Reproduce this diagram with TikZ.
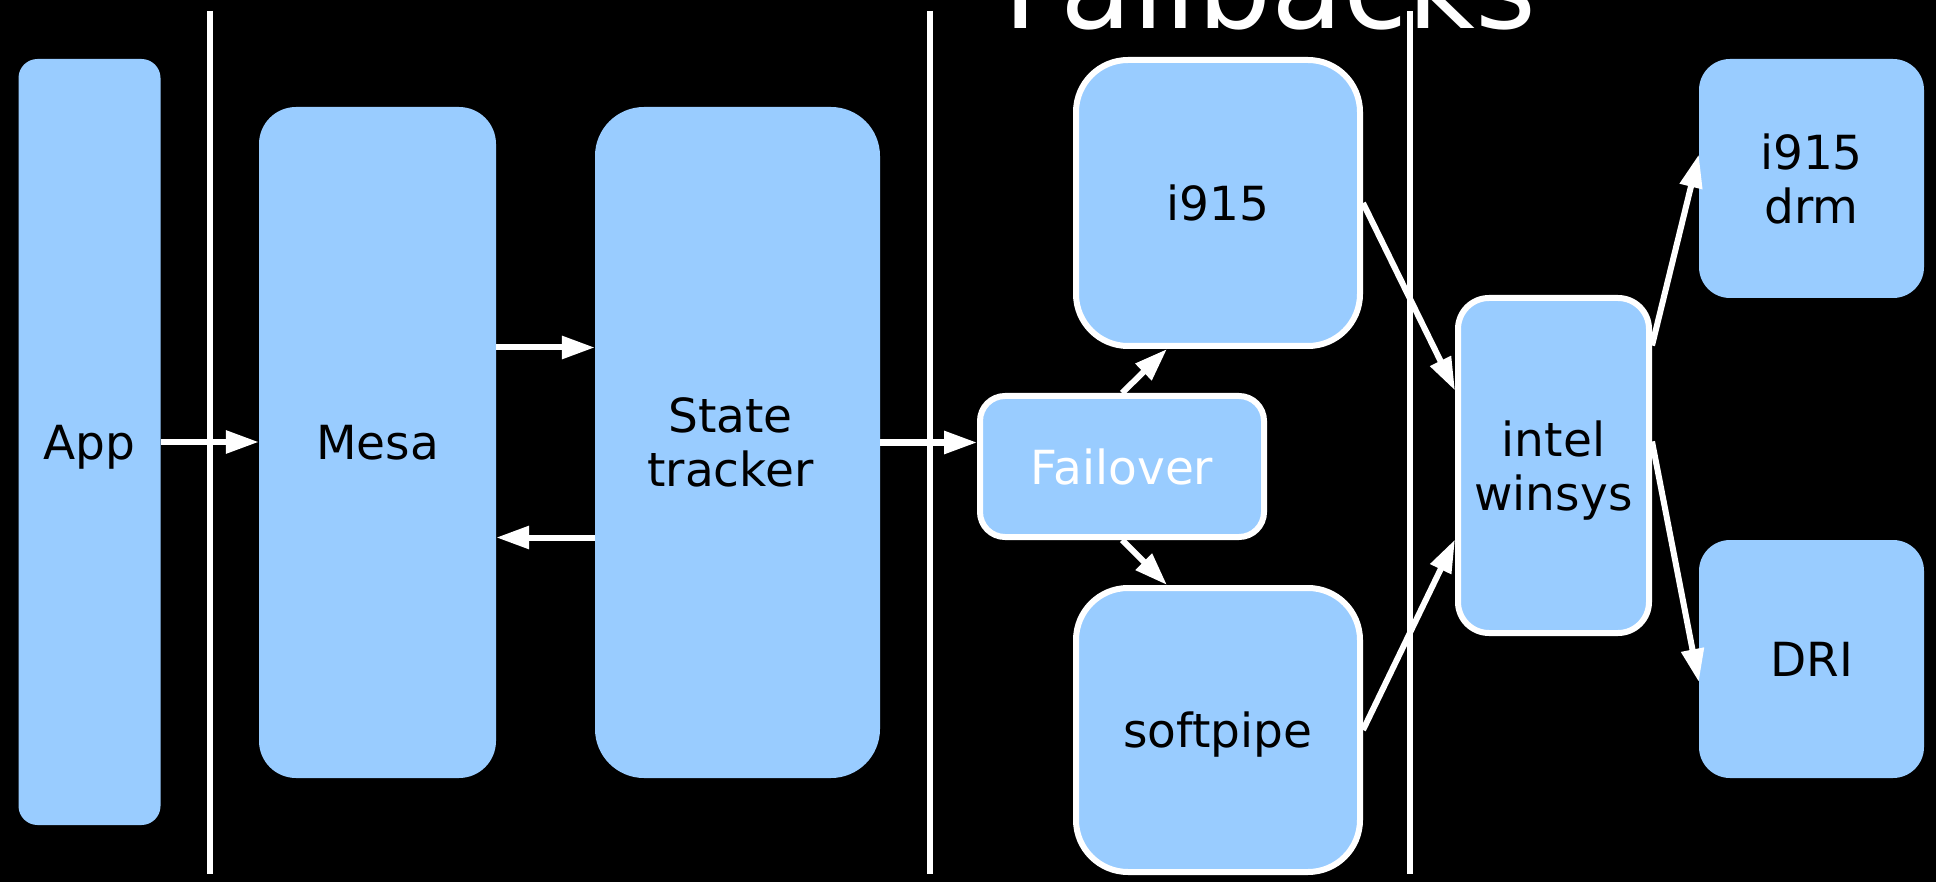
\documentclass[tikz,border=0pt]{standalone}
\usepackage{fontspec}
\setmainfont{DejaVu Sans}
\usepackage{tikz}
\usetikzlibrary{arrows.meta}
\definecolor{boxblue}{HTML}{99CCFF}

\tikzset{
    layer/.style={fill=boxblue, text=black, align=center, inner sep=0pt,
        text depth=0pt, font=\fontsize{47}{54}\selectfont},
    framed/.style={layer, draw=white, line width=6pt},
    flow/.style={white, line width=6pt, -{Triangle[length=33pt, width=22pt]}},
    divider/.style={white, line width=6pt}
}

\begin{document}
\begin{tikzpicture}[x=1pt, y=-1pt]
    % Background
    \clip (0, 0) rectangle (1936, 882);
    \fill[black] (0, 0) rectangle (1936, 882);

    % Title
    \node[anchor=base, text=white, inner sep=0pt, font=\fontsize{117}{124}\selectfont] (title) at (1270, 28.5) {Fallbacks};

    % Dividers
    \draw[divider] (210, 11) -- (210, 874);
    \draw[divider] (930, 11) -- (930, 874);
    \draw[divider] (1410, 11) -- (1410, 874);

    % Stack
    \node[layer, minimum width=142pt, minimum height=766pt, rounded corners=19pt] (app) at (89.5, 442) {App};
    \node[layer, minimum width=237pt, minimum height=671pt, rounded corners=37pt] (mesa) at (377.5, 442.5) {Mesa};
    \node[layer, minimum width=285pt, minimum height=671pt, rounded corners=49pt] (state) at (737.5, 442.5) {State\hspace*{14pt}\\tracker\hspace*{14pt}};

    % Drivers
    \node[framed, minimum width=284pt, minimum height=286pt, rounded corners=52pt] (i915) at (1218, 203) {i915};
    \node[framed, minimum width=284pt, minimum height=141pt, rounded corners=25pt] (failover) at (1122, 466.5) {\textcolor{white}{Failover}};
    \node[framed, minimum width=284pt, minimum height=284pt, rounded corners=52pt] (softpipe) at (1218, 730) {softpipe};
    \node[framed, minimum width=191pt, minimum height=335pt, rounded corners=31pt] (winsys) at (1553.5, 465.5) {intel\\winsys};

    % Kernel side
    \node[layer, minimum width=225pt, minimum height=239pt, rounded corners=31pt] (drm) at (1811.5, 178.5) {i915\\drm};
    \node[layer, minimum width=225pt, minimum height=238pt, rounded corners=31pt] (dri) at (1811.5, 659) {DRI};

    % Arrows
    \draw[flow] (app.east) -- (app.east -| mesa.west);
    \draw[flow] ([yshift=95pt]mesa.east) -- ([yshift=95pt]state.west);
    \draw[flow] ([yshift=-95pt]state.west) -- ([yshift=-95pt]mesa.east);
    \draw[flow] (state.east) -- (state.east -| failover.west);
    \draw[flow] (failover.north) -- ([xshift=-51pt]i915.south);
    \draw[flow] (failover.south) -- ([xshift=-51pt]softpipe.north);
    \draw[flow] (i915.east) -- ([yshift=75pt]winsys.west);
    \draw[flow] (softpipe.east) -- ([yshift=-74pt]winsys.west);
    \draw[flow] ([yshift=120pt]winsys.east) -- ([yshift=24pt]drm.west);
    \draw[flow] ([yshift=24pt]winsys.east) -- ([yshift=-23pt]dri.west);
\end{tikzpicture}
\end{document}
